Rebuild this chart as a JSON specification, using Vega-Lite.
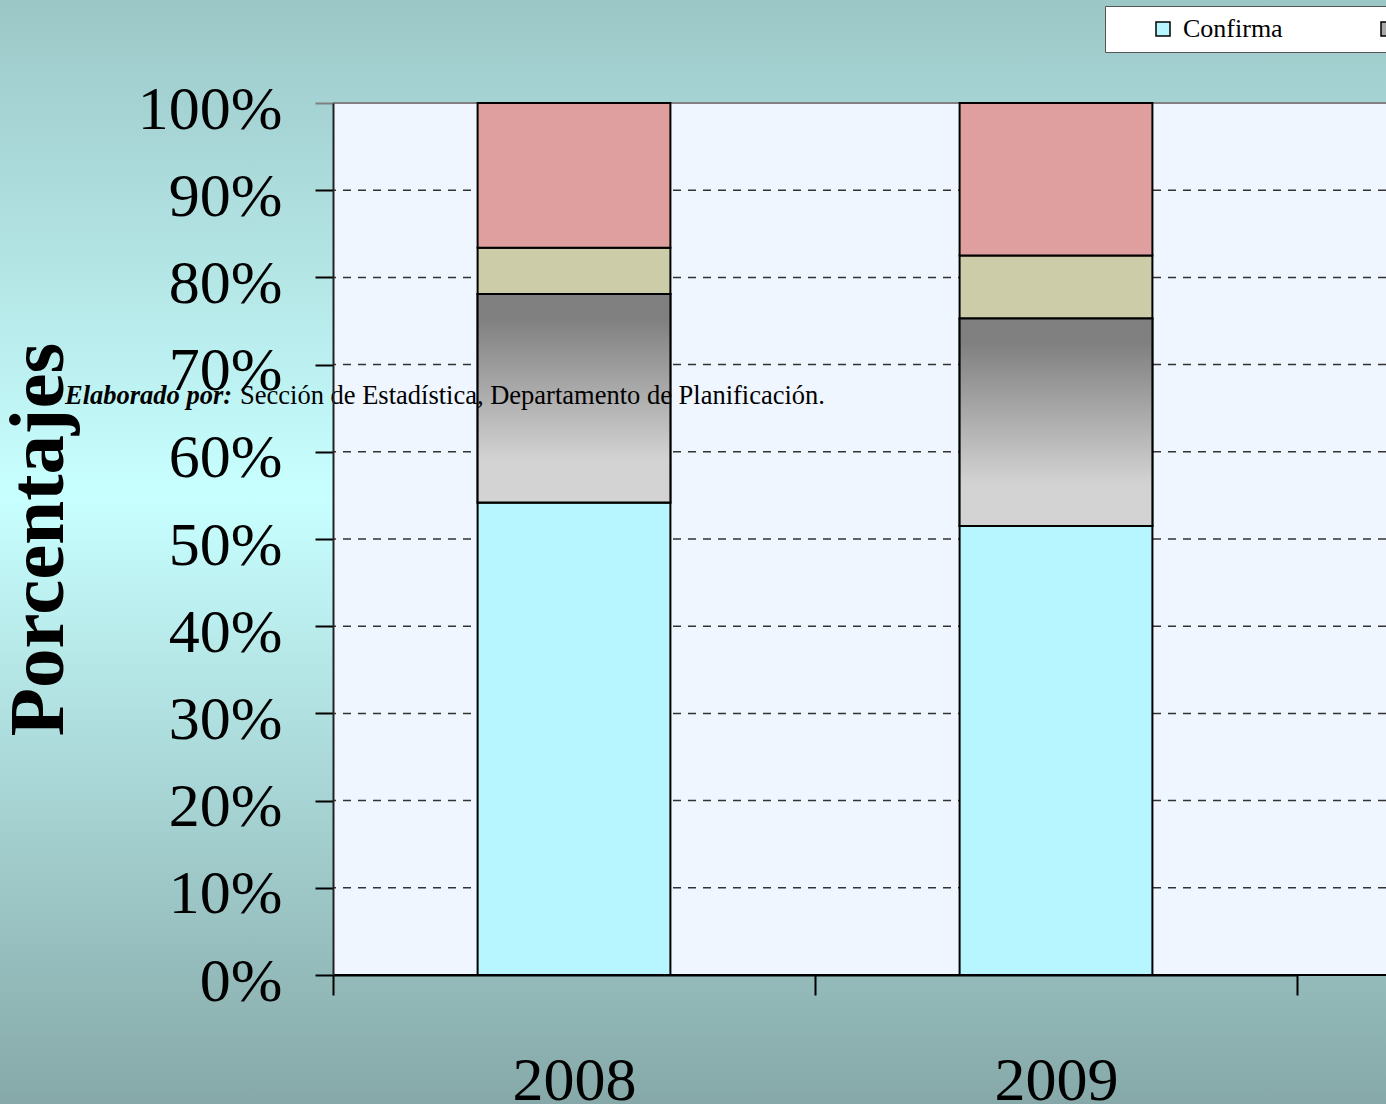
{
  "$schema": "https://vega.github.io/schema/vega-lite/v6.json",
  "width": 1053,
  "height": 872,
  "autosize": {"type": "none"},
  "padding": {"left": 333, "top": 103, "right": 0, "bottom": 129},
  "background": "#b0dcdc",
  "config": {
    "view": {"stroke": null},
    "font": "Liberation Serif",
    "legend": {"labelFont": "Liberation Serif"}
  },
  "datasets": {
    "resultados": [
      {"anio": "2008", "serie": "Confirma", "orden": 1, "pct": 54.2},
      {"anio": "2008", "serie": "Revoca", "orden": 2, "pct": 23.9},
      {"anio": "2008", "serie": "Modifica", "orden": 3, "pct": 5.3},
      {"anio": "2008", "serie": "Otros", "orden": 4, "pct": 16.6},
      {"anio": "2009", "serie": "Confirma", "orden": 1, "pct": 51.5},
      {"anio": "2009", "serie": "Revoca", "orden": 2, "pct": 23.8},
      {"anio": "2009", "serie": "Modifica", "orden": 3, "pct": 7.2},
      {"anio": "2009", "serie": "Otros", "orden": 4, "pct": 17.5}
    ],
    "grid": [
      {"y0": 10}, {"y0": 20}, {"y0": 30}, {"y0": 40}, {"y0": 50},
      {"y0": 60}, {"y0": 70}, {"y0": 80}, {"y0": 90}
    ]
  },
  "layer": [
    {
      "data": {"values": [{}]},
      "mark": {
        "type": "rect",
        "fill": {
          "gradient": "linear", "x1": 0, "y1": 0, "x2": 0, "y2": 1,
          "stops": [
            {"offset": 0, "color": "#9cc7c7"},
            {"offset": 0.45, "color": "#c8ffff"},
            {"offset": 1, "color": "#86a8a8"}
          ]
        }
      },
      "encoding": {
        "x": {"value": -333}, "x2": {"value": 1053},
        "y": {"value": -103}, "y2": {"value": 1001}
      }
    },
    {
      "data": {"values": [{}]},
      "mark": {"type": "rect", "fill": "#eff6ff"},
      "encoding": {
        "x": {"value": 0}, "x2": {"value": 1053},
        "y": {"value": 0}, "y2": {"value": 872}
      }
    },
    {
      "data": {"name": "grid"},
      "mark": {"type": "rule", "color": "#333333", "strokeDash": [8, 7], "strokeWidth": 1.5},
      "encoding": {
        "y": {"field": "y0", "type": "quantitative", "scale": {"domain": [0, 100]}}
      }
    },
    {
      "data": {"values": [{}]},
      "mark": {"type": "rule", "color": "#808080", "strokeWidth": 2},
      "encoding": {"y": {"datum": 100, "type": "quantitative"}}
    },
    {
      "data": {"values": [{}]},
      "mark": {"type": "rule", "color": "black", "strokeWidth": 2},
      "encoding": {"y": {"datum": 0, "type": "quantitative"}}
    },
    {
      "data": {"name": "resultados"},
      "transform": [
        {"stack": "pct", "groupby": ["anio"], "sort": [{"field": "orden", "order": "ascending"}], "as": ["y0", "y1"]}
      ],
      "mark": {"type": "bar", "width": {"band": 0.4}, "stroke": "black", "strokeWidth": 2},
      "encoding": {
        "x": {
          "field": "anio", "type": "nominal",
          "scale": {"domain": ["2008", "2009"], "range": [0, 964], "paddingInner": 0, "paddingOuter": 0},
          "axis": {
            "title": null, "labelAngle": 0, "labelFont": "Liberation Serif", "labelFontSize": 62,
            "labelColor": "black", "labelPadding": 55, "tickSize": 20, "tickWidth": 2, "tickColor": "black",
            "tickBand": "extent", "domainColor": "black", "domainWidth": 2, "zindex": 1, "grid": false
          }
        },
        "y": {
          "field": "y0", "type": "quantitative", "scale": {"domain": [0, 100]},
          "axis": {
            "title": "Porcentajes", "values": [0, 10, 20, 30, 40, 50, 60, 70, 80, 90, 100],
            "labelExpr": "datum.value + '%'", "labelFont": "Liberation Serif", "labelFontSize": 62,
            "labelColor": "black", "labelPadding": 33, "labelOffset": 6, "tickSize": 18, "tickWidth": 2,
            "tickColor": {"condition": {"test": "datum.value == 100", "value": "#808080"}, "value": "black"},
            "domainColor": "#222222", "domainWidth": 2, "grid": false, "zindex": 1,
            "titleFont": "Liberation Serif", "titleFontSize": 79, "titleFontWeight": "bold",
            "titleColor": "black", "titlePadding": 58
          }
        },
        "y2": {"field": "y1"},
        "color": {
          "field": "serie", "type": "nominal",
          "scale": {
            "domain": ["Confirma", "Revoca", "Modifica", "Otros"],
            "range": ["#b8f6ff", "#a8a8a8", "#cdcca8", "#df9f9f"]
          },
          "legend": {
            "orient": "none", "legendX": 772, "legendY": -97, "direction": "horizontal", "columns": 4,
            "title": " ", "titleOrient": "left", "titlePadding": 35, "titleFontSize": 26,
            "padding": 10, "fillColor": "white", "strokeColor": "#555555",
            "labelFont": "Liberation Serif", "labelFontSize": 26, "labelColor": "black", "labelOffset": 7,
            "symbolType": "square", "symbolSize": 196, "symbolStrokeColor": "black", "symbolStrokeWidth": 1.5,
            "symbolOpacity": 1, "columnPadding": 92
          }
        }
      }
    },
    {
      "data": {"name": "resultados"},
      "transform": [
        {"stack": "pct", "groupby": ["anio"], "sort": [{"field": "orden", "order": "ascending"}], "as": ["y0", "y1"]},
        {"filter": "datum.serie === 'Revoca'"}
      ],
      "mark": {
        "type": "bar", "width": {"band": 0.4}, "stroke": "black", "strokeWidth": 2,
        "fill": {
          "gradient": "linear", "x1": 0, "y1": 0, "x2": 0, "y2": 1,
          "stops": [
            {"offset": 0, "color": "#808080"},
            {"offset": 0.12, "color": "#808080"},
            {"offset": 0.8, "color": "#d3d3d3"},
            {"offset": 1, "color": "#d3d3d3"}
          ]
        }
      },
      "encoding": {
        "x": {"field": "anio", "type": "nominal"},
        "y": {"field": "y0", "type": "quantitative"},
        "y2": {"field": "y1"}
      }
    },
    {
      "data": {"values": [{}]},
      "mark": {"type": "text", "text": "Elaborado por:", "align": "left", "baseline": "alphabetic",
        "font": "Liberation Serif", "fontSize": 26.5, "fontWeight": "bold", "fontStyle": "italic", "color": "black"},
      "encoding": {"x": {"value": -268}, "y": {"datum": 65.5, "type": "quantitative"}}
    },
    {
      "data": {"values": [{}]},
      "mark": {"type": "text", "text": "Sección de Estadística, Departamento de Planificación.", "align": "left",
        "baseline": "alphabetic", "font": "Liberation Serif", "fontSize": 26.5, "color": "black"},
      "encoding": {"x": {"value": -93}, "y": {"datum": 65.5, "type": "quantitative"}}
    }
  ]
}
